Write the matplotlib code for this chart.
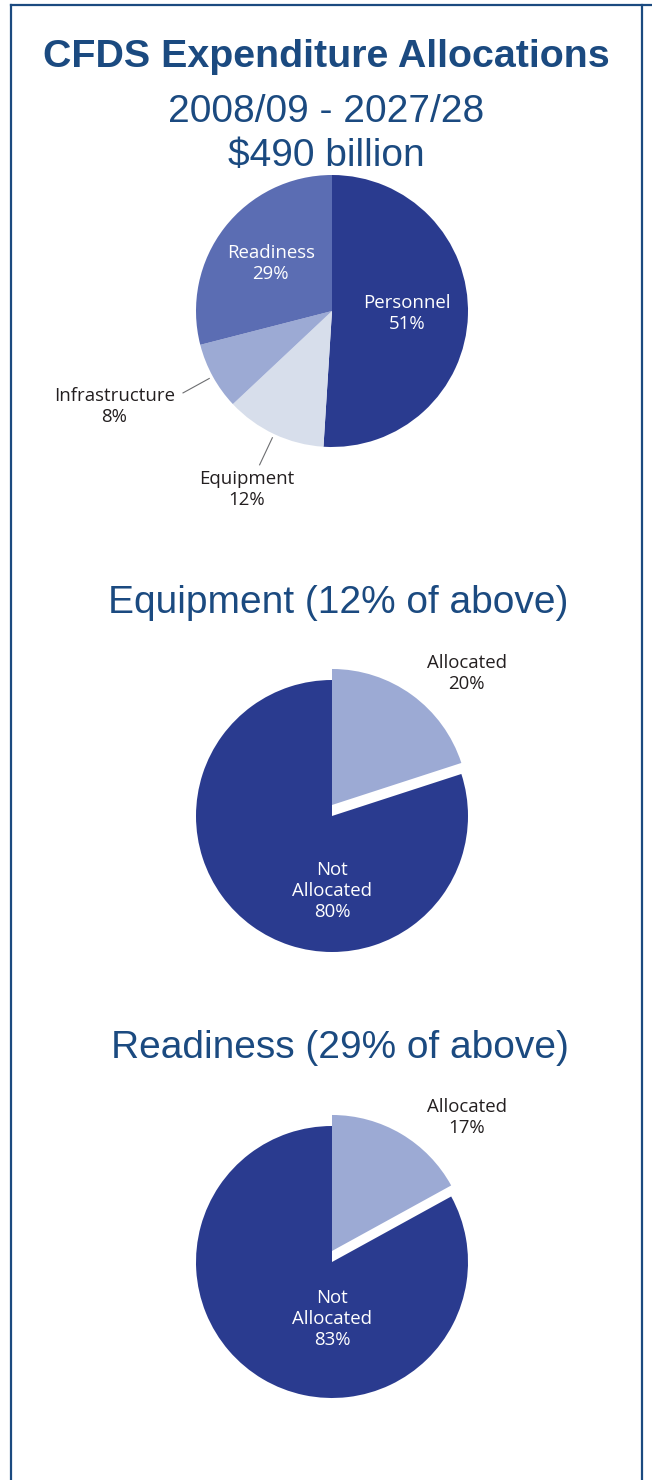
import matplotlib.pyplot as plt
from matplotlib.lines import Line2D
import numpy as np

W, H = 652, 1480
NAVY = '#1b4a80'
INK = '#231f20'
R = 136          # pie radius in pixels
HALF = 1.7       # half extent of each pie axes, in radii

# CFDS totals
main_labels = ['Personnel', 'Equipment', 'Infrastructure', 'Readiness']
main_shares = [51, 12, 8, 29]
main_colors = ['#2a3b8f', '#d7deeb', '#9caad4', '#5b6db3']

# share of each envelope already allocated
equip_labels = ['Allocated', 'Not\nAllocated']
equip_shares = [20, 80]
ready_labels = ['Allocated', 'Not\nAllocated']
ready_shares = [17, 83]
sub_colors = ['#9caad4', '#2a3b8f']

LABEL_FONT = dict(family='Open Sans', fontsize=13.4, linespacing=1.22, ha='center', va='center')
HEAD_FONT = dict(family='Liberation Sans', fontsize=28, color=NAVY, ha='center', va='baseline')

fig = plt.figure(figsize=(W / 100, H / 100), dpi=100)


def fx(px):
    return px / W


def fy(py):
    return 1 - py / H


def pie_axes(cx, cy):
    ext = HALF * R
    ax = fig.add_axes([fx(cx - ext), fy(cy + ext), 2 * ext / W, 2 * ext / H])
    return ax


def pct(v, name):
    return f'{name}\n{v}%'


def mid_angle(w):
    return np.deg2rad((w.theta1 + w.theta2) / 2)


# headings
fig.text(fx(326), fy(67), 'CFDS Expenditure Allocations', fontweight='bold',
         **{**HEAD_FONT, 'fontsize': 28.4})
fig.text(fx(326), fy(121.5), '2008/09 - 2027/28', **HEAD_FONT)
fig.text(fx(326), fy(165.7), '$490 billion', **HEAD_FONT)
fig.text(fx(338), fy(612.7), 'Equipment (12% of above)', **HEAD_FONT)
fig.text(fx(340), fy(1058), 'Readiness (29% of above)', **HEAD_FONT)

# main pie
ax = pie_axes(332, 311)
wedges, _ = ax.pie(main_shares, colors=main_colors, startangle=90, counterclock=False,
                   wedgeprops=dict(linewidth=0))
inside = {'Personnel': 0.55, 'Readiness': 0.57}
outside = {'Infrastructure': (-1.60, -0.70), 'Equipment': (-0.63, -1.315)}
for w, name, v in zip(wedges, main_labels, main_shares):
    a = mid_angle(w)
    if name in inside:
        d = inside[name]
        ax.text(d * np.cos(a), d * np.sin(a), pct(v, name), color='white', **LABEL_FONT)
    else:
        ax.plot([1.03 * np.cos(a), 1.25 * np.cos(a)], [1.03 * np.sin(a), 1.25 * np.sin(a)],
                color='#6d6e71', lw=0.8)
        tx, ty = outside[name]
        ax.text(tx, ty, pct(v, name), color=INK, **LABEL_FONT)
ax.set_xlim(-HALF, HALF)
ax.set_ylim(-HALF, HALF)
ax.axis('off')


def sub_pie(cy, labels, shares, alloc_xy, rest_xy):
    ax = pie_axes(332, cy)
    wedges, _ = ax.pie(shares, colors=sub_colors, startangle=90, counterclock=False,
                       wedgeprops=dict(linewidth=0))
    # lift the allocated slice off the rest
    wedges[0].set_center((0, 0.081))
    ax.text(*alloc_xy, pct(shares[0], labels[0]), color=INK, **LABEL_FONT)
    ax.text(*rest_xy, pct(shares[1], labels[1]), color='white', **LABEL_FONT)
    ax.set_xlim(-HALF, HALF)
    ax.set_ylim(-HALF, HALF)
    ax.axis('off')


sub_pie(816, equip_labels, equip_shares, (0.99, 1.05), (0.0, -0.55))
sub_pie(1262, ready_labels, ready_shares, (0.99, 1.06), (0.0, -0.42))

# frame
for xs, ys in [([11, 11], [5, H]), ([642, 642], [5, H]), ([11, 652], [5, 5])]:
    fig.add_artist(Line2D([fx(x) for x in xs], [fy(y) for y in ys], color=NAVY, lw=1.6))

fig.savefig('out.png', dpi=100)
